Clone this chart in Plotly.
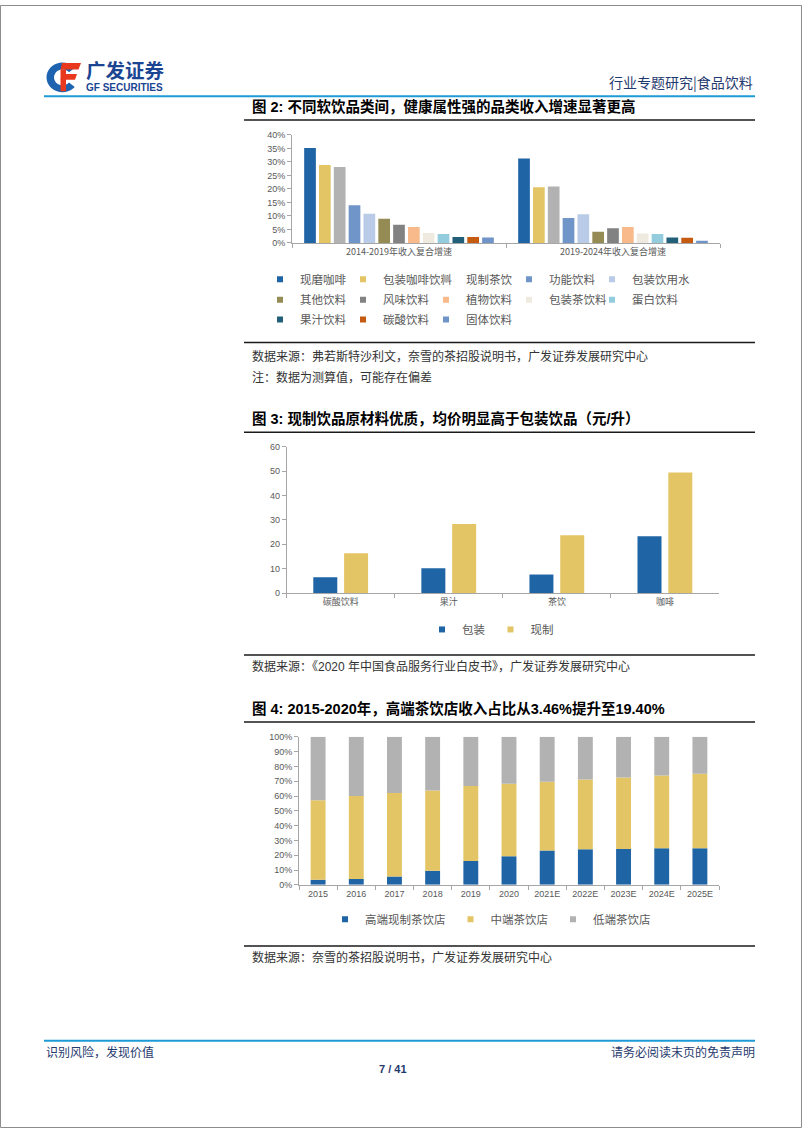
import math
import plotly.graph_objects as go

W, H = 802, 1133


def px(x):
    return x / W


def py(y):
    return 1 - y / H


# ---------------- data ----------------
# Figure 2: revenue CAGR by soft-drink category (%)
periods = ["2014-2019年收入复合增速", "2019-2024年收入复合增速"]
drink_types = ["现磨咖啡", "包装咖啡饮料", "现制茶饮", "功能饮料", "包装饮用水",
               "其他饮料", "风味饮料", "植物饮料", "包装茶饮料", "蛋白饮料",
               "果汁饮料", "碳酸饮料", "固体饮料"]
cagr_2014_2019 = [35.1, 28.8, 28.1, 13.9, 10.8, 8.9, 6.7, 5.9, 3.7, 3.3, 2.2, 2.2, 2.0]
cagr_2019_2024 = [31.2, 20.6, 20.9, 9.2, 10.6, 4.1, 5.4, 5.9, 3.5, 3.3, 2.0, 1.9, 0.8]
drink_colors = ["#1F64A5", "#E4C565", "#B2B2B2", "#7095C8", "#B9CBE6",
                "#958B55", "#828282", "#F8B98B", "#EEEADF", "#93CDDD",
                "#22607A", "#C55A11", "#6F94C7"]

# Figure 3: average price (yuan / litre)
price_categories = ["碳酸饮料", "果汁", "茶饮", "咖啡"]
price_series = ["包装", "现制"]
packaged_price = [6.5, 10.2, 7.6, 23.3]
freshmade_price = [16.3, 28.3, 23.7, 49.4]
price_colors = ["#1F64A5", "#E4C565"]

# Figure 4: revenue share of tea shop tiers (%)
years = ["2015", "2016", "2017", "2018", "2019", "2020",
         "2021E", "2022E", "2023E", "2024E", "2025E"]
tier_names = ["高端现制茶饮店", "中端茶饮店", "低端茶饮店"]
high_end_share = [3.46, 4.0, 5.6, 9.6, 16.1, 19.40, 23.2, 24.1, 24.3, 24.8, 24.8]
mid_end_share = [53.6, 56.0, 56.5, 54.2, 50.6, 48.9, 46.4, 47.1, 48.2, 49.1, 50.2]
low_end_share = [42.94, 40.0, 37.9, 36.2, 33.3, 31.7, 30.4, 28.8, 27.5, 26.1, 25.0]
tier_colors = ["#1F64A5", "#E4C565", "#B2B2B2"]

# ---------------- styles ----------------
CJK = "Noto Sans CJK SC"
LATIN = "Liberation Sans, Noto Sans CJK SC"
TICK_GRAY = "#595959"
AXIS_GRAY = "#A6A6A6"
NAVY = "#1F3A6E"
LOGO_BLUE = "#1B4593"
LINE_BLUE = "#1E9BD7"

fig = go.Figure()

# ---------- Figure 2 bars ----------
n = len(drink_types)
step1, width1 = 0.0693, 0.0547
row_legends = ["legend", "legend2", "legend3"]
for i, name in enumerate(drink_types):
    fig.add_trace(go.Bar(
        x=periods, y=[cagr_2014_2019[i], cagr_2019_2024[i]],
        name=name, marker=dict(color=drink_colors[i], line=dict(width=0)),
        width=width1, offset=(i - (n - 1) / 2) * step1 - width1 / 2,
        xaxis="x", yaxis="y", showlegend=False, hoverinfo="skip"))
    fig.add_trace(go.Scatter(
        x=[None], y=[None], mode="markers", name=name,
        marker=dict(symbol="square", size=6, color=drink_colors[i]),
        xaxis="x", yaxis="y", legend=row_legends[i // 5],
        hoverinfo="skip"))
# blank spacer entry at the end of each legend row (keeps last label unclipped)
for lg in row_legends:
    fig.add_trace(go.Scatter(
        x=[None], y=[None], mode="markers", name=" ",
        marker=dict(symbol="square", size=1, color="rgba(0,0,0,0)"),
        xaxis="x", yaxis="y", legend=lg, hoverinfo="skip"))

# ---------- Figure 3 bars ----------
width2 = 0.222
offsets2 = [-0.254, 0.031]
for j, (name, vals) in enumerate(zip(price_series, [packaged_price, freshmade_price])):
    fig.add_trace(go.Bar(
        x=price_categories, y=vals, name=name,
        marker=dict(color=price_colors[j], line=dict(width=0)),
        width=width2, offset=offsets2[j],
        xaxis="x2", yaxis="y2", showlegend=False, hoverinfo="skip"))
    fig.add_trace(go.Scatter(
        x=[None], y=[None], mode="markers", name=name,
        marker=dict(symbol="square", size=6, color=price_colors[j]),
        xaxis="x2", yaxis="y2", legend="legend4", hoverinfo="skip"))

# ---------- Figure 4 stacked bars ----------
shares = [high_end_share, mid_end_share, low_end_share]
base = [0.0] * len(years)
for k, (name, vals) in enumerate(zip(tier_names, shares)):
    fig.add_trace(go.Bar(
        x=years, y=vals, base=list(base), name=name,
        marker=dict(color=tier_colors[k], line=dict(width=0)),
        width=0.39, offset=-0.195,
        xaxis="x3", yaxis="y3", showlegend=False, hoverinfo="skip"))
    base = [b + v for b, v in zip(base, vals)]
    fig.add_trace(go.Scatter(
        x=[None], y=[None], mode="markers", name=name,
        marker=dict(symbol="square", size=6, color=tier_colors[k]),
        xaxis="x3", yaxis="y3", legend="legend5", hoverinfo="skip"))


# ---------- axes ----------
def xax(domain, anchor, ncat, family=LATIN):
    return dict(domain=domain, anchor=anchor, type="category",
                range=[-0.5, ncat - 0.5], tickson="boundaries",
                ticks="outside", ticklen=4, tickcolor=AXIS_GRAY,
                showline=True, linecolor=AXIS_GRAY, linewidth=1,
                showgrid=False, zeroline=False, fixedrange=True,
                tickfont=dict(family=family, size=9, color=TICK_GRAY))


def yax(domain, anchor, rng, dtick, suffix=""):
    return dict(domain=domain, anchor=anchor, range=rng, dtick=dtick,
                tick0=0, ticksuffix=suffix, ticks="outside", ticklen=4,
                tickcolor=AXIS_GRAY, showline=True, linecolor=AXIS_GRAY,
                linewidth=1, showgrid=False, zeroline=False, fixedrange=True,
                tickfont=dict(family=LATIN, size=9, color=TICK_GRAY))


legend_common = dict(orientation="h", xanchor="left", yanchor="middle",
                     bgcolor="rgba(0,0,0,0)", borderwidth=0,
                     traceorder="normal", itemclick=False,
                     itemdoubleclick=False,
                     font=dict(family=CJK, size=11.5, color=TICK_GRAY))
row_common = dict(legend_common, x=px(260), entrywidth=38, entrywidthmode="pixels")

fig.update_layout(
    width=W, height=H, margin=dict(l=0, r=0, t=0, b=0),
    paper_bgcolor="white", plot_bgcolor="white",
    barmode="overlay", showlegend=True,
    xaxis=xax([px(292), px(720)], "y", len(periods), CJK),
    yaxis=yax([py(240), py(131)], "x", [0, 40], 5, "%"),
    xaxis2=xax([px(286.7), px(719)], "y2", len(price_categories), CJK),
    yaxis2=yax([py(593.3), py(445.7)], "x2", [0, 60], 10),
    xaxis3=xax([px(299), px(719)], "y3", len(years)),
    yaxis3=yax([py(887.7), py(738.3)], "x3", [0, 100], 10, "%"),
    legend=dict(row_common, y=py(276.7)),
    legend2=dict(row_common, y=py(297.3)),
    legend3=dict(row_common, y=py(317.3)),
    legend4=dict(legend_common, x=px(422), y=py(630)),
    legend5=dict(legend_common, x=px(325), y=py(922.3)),
)

# ---------- text ----------
annotations = []


def text(x, y, s, size, color="#000", family=CJK, anchor="left"):
    annotations.append(dict(x=px(x), y=py(y), xref="paper", yref="paper",
                            text=s, showarrow=False, xanchor=anchor,
                            yanchor="middle", align="left",
                            font=dict(family=family, size=size, color=color)))


# logo wordmark: one text block with two lines
text(84, 70, "<b><span style='font-size:19.5px;font-family:Noto Sans CJK SC'>广发证券</span></b>"
             "<br><b>GF SECURITIES</b>", 10, LOGO_BLUE, "Liberation Sans")
text(755, 77.5, "行业专题研究|食品饮料", 14, NAVY, CJK, "right")

text(250, 102, "<b>图 2: 不同软饮品类间，健康属性强的品类收入增速显著更高</b>", 14.5, "#000", LATIN)
text(250, 354, "数据来源：弗若斯特沙利文，奈雪的茶招股说明书，广发证券发展研究中心", 12, "#333")
text(250, 375, "注：数据为测算值，可能存在偏差", 12, "#333")

text(250, 417.5, "<b>图 3: 现制饮品原材料优质，均价明显高于包装饮品（元/升）</b>", 14.5, "#000", LATIN)
text(250, 667.7, "数据来源：《2020 年中国食品服务行业白皮书》，广发证券发展研究中心", 12, "#333", LATIN)

text(250, 709.5, "<b>图 4: 2015-2020年，高端茶饮店收入占比从3.46%提升至19.40%</b>", 14.5, "#000", LATIN)
text(250, 960, "数据来源：奈雪的茶招股说明书，广发证券发展研究中心", 12, "#333")

text(44, 1056, "识别风险，发现价值", 12, NAVY)
text(757, 1056, "请务必阅读末页的免责声明", 12, NAVY, CJK, "right")
text(393, 1073, "<b>7 / 41</b>", 11, NAVY, "Liberation Sans", "center")

fig.update_layout(annotations=annotations)

# ---------- decorative shapes ----------
shapes = []


def hline(y, x0, x1, color, w):
    shapes.append(dict(type="line", xref="paper", yref="paper",
                       x0=px(x0), x1=px(x1), y0=py(y), y1=py(y),
                       line=dict(color=color, width=w)))


def poly(points, color):
    d = "M " + " L ".join(f"{px(a):.5f},{py(b):.5f}" for a, b in points) + " Z"
    shapes.append(dict(type="path", xref="paper", yref="paper", path=d,
                       fillcolor=color, line=dict(width=0)))


# page border
shapes.append(dict(type="rect", xref="paper", yref="paper", x0=px(0.5), x1=px(801.5),
                   y0=py(1132.5), y1=py(0.5), line=dict(color="#8C8C8C", width=1)))
hline(92, 44, 755, LINE_BLUE, 2)
hline(1045, 44, 755, LINE_BLUE, 2)
for yy in (116, 340.5, 431, 655.7, 723.5, 949.3):
    hline(yy, 244, 755, "#1A1A1A", 1.5)

# logo icon: blue "G" ring + red "F"
cx, cy = 62.5, 73
ring = []
for a in range(40, 321, 10):
    t = math.radians(a)
    ring.append((cx + 16 * math.cos(t), cy - 15 * math.sin(t)))
for a in range(320, 39, -10):
    t = math.radians(a)
    ring.append((cx + 8.5 * math.cos(t), cy - 8 * math.sin(t)))
poly(ring, "#1E63B0")
poly([(62, 58.5), (81, 58.5), (78.5, 65), (60.5, 65)], "#E8381E")
poly([(62, 69.5), (77, 69.5), (75, 75.5), (60.5, 75.5)], "#E8381E")
poly([(60.5, 65), (66, 65), (66, 87), (60.5, 87)], "#E8381E")

fig.update_layout(shapes=shapes)

fig.write_html("out.html")
